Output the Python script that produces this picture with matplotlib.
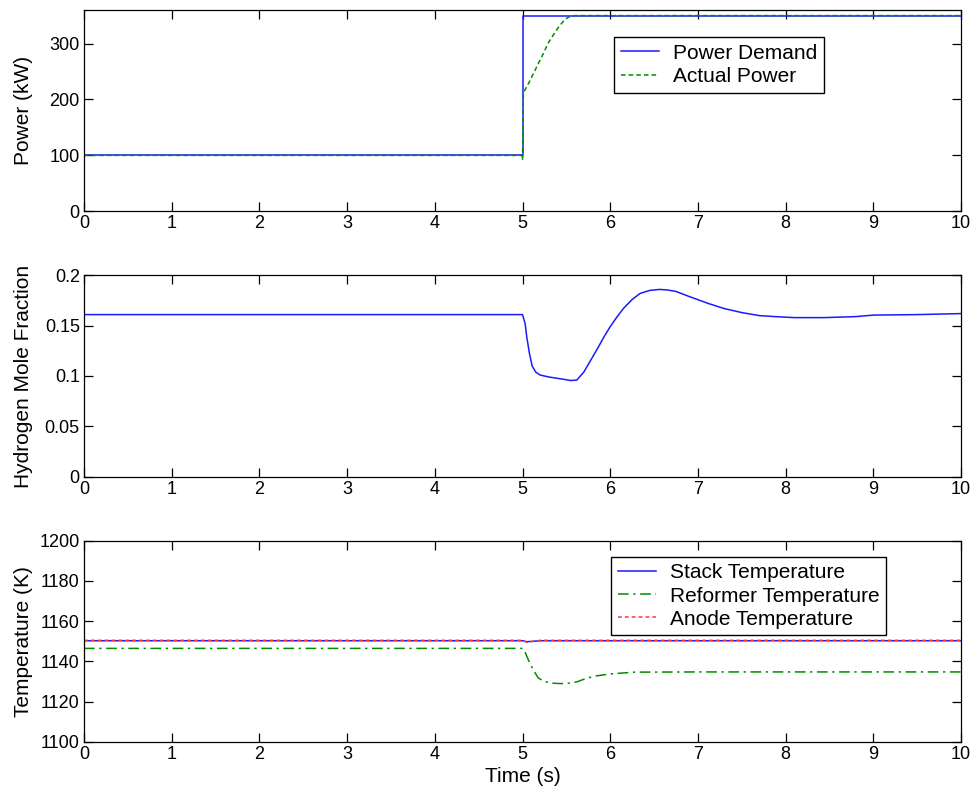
import matplotlib
matplotlib.use("Agg")
import matplotlib.pyplot as plt
import numpy as np

plt.rcParams['font.family'] = ['Liberation Sans', 'DejaVu Sans']
plt.rcParams['font.size'] = 13

# Power panel
t_demand = [0, 5, 5, 10]
p_demand = [100, 100, 350, 350]
t_actual = [0, 5.0, 5.0, 5.01, 5.07, 5.12, 5.18, 5.24, 5.29, 5.35, 5.40, 5.45, 5.50, 5.55, 5.60, 10]
p_actual = [100, 100, 92, 212, 229, 245, 264, 283, 300, 315, 327, 337, 345, 349, 350, 350]

# Hydrogen mole fraction
t_h2 = [0, 5.0, 5.03, 5.05, 5.08, 5.11, 5.15, 5.2, 5.3, 5.45, 5.55, 5.62, 5.7,
        5.78, 5.86, 5.93, 6.0, 6.08, 6.15, 6.25, 6.34, 6.45, 6.56, 6.65, 6.75,
        6.9, 7.12, 7.3, 7.5, 7.7, 7.88, 8.1, 8.44, 8.8, 9.0, 9.5, 10]
h2 = [0.161, 0.161, 0.152, 0.138, 0.122, 0.110, 0.104, 0.101, 0.099, 0.097,
      0.0955, 0.096, 0.104, 0.116, 0.128, 0.139, 0.149, 0.159, 0.167, 0.176,
      0.182, 0.185, 0.186, 0.1855, 0.184, 0.179, 0.172, 0.167, 0.163, 0.160,
      0.159, 0.158, 0.158, 0.159, 0.1605, 0.161, 0.162]

# Temperatures
t_stack = [0, 5.0, 5.05, 5.2, 10]
T_stack = [1150.3, 1150.3, 1149.8, 1150.3, 1150.3]
t_anode = [0, 5.0, 5.05, 5.2, 10]
T_anode = [1150.5, 1150.5, 1149.5, 1150.5, 1150.5]
t_ref = [0, 5.0, 5.03, 5.07, 5.12, 5.18, 5.25, 5.35, 5.44, 5.55, 5.63, 5.72,
         5.82, 6.0, 6.28, 7.0, 10]
T_ref = [1146.5, 1146.5, 1144.5, 1140.5, 1136.0, 1131.8, 1130.0, 1129.2,
         1129.0, 1129.3, 1130.0, 1131.5, 1132.7, 1133.8, 1134.7, 1134.8, 1134.8]

fig, axes = plt.subplots(3, 1, figsize=(9.72, 7.97), dpi=100)
fig.subplots_adjust(left=84/972, right=961/972, top=1-10/797, bottom=1-742/797, hspace=0.318)

blue = (0.1, 0.1, 1.0)
green = (0.0, 0.55, 0.0)
red = (1.0, 0.2, 0.2)

leg_kw = dict(loc='upper left', fancybox=False, edgecolor='black', framealpha=1,
              borderaxespad=0, handlelength=1.85, handletextpad=0.65,
              fontsize=15, borderpad=0.32, labelspacing=0.2)

ax = axes[0]
ax.plot(t_demand, p_demand, color=blue, lw=1.1, label='Power Demand')
ax.plot(t_actual, p_actual, color=green, lw=1.1, dashes=(3, 2), label='Actual Power')
ax.set_ylim(0, 360)
ax.set_yticks([0, 100, 200, 300])
ax.set_ylabel('Power (kW)', fontsize=15)
ax.legend(bbox_to_anchor=((614-84)/877, (211-37)/201), **leg_kw)

ax = axes[1]
ax.plot(t_h2, h2, color=blue, lw=1.1)
ax.set_ylim(0, 0.2)
ax.set_yticks([0, 0.05, 0.1, 0.15, 0.2])
ax.set_yticklabels(['0', '0.05', '0.1', '0.15', '0.2'])
ax.set_ylabel('Hydrogen Mole Fraction', fontsize=15)

ax = axes[2]
ax.plot(t_stack, T_stack, color=blue, lw=1.1, label='Stack Temperature')
ax.plot(t_ref, T_ref, color=green, lw=1.1, dashes=(7, 3, 1.5, 3), label='Reformer Temperature')
ax.plot(t_anode, T_anode, color=red, lw=1.1, dashes=(2.5, 2), label='Anode Temperature')
ax.set_ylim(1100, 1200)
ax.set_yticks([1100, 1120, 1140, 1160, 1180, 1200])
ax.set_ylabel('Temperature (K)', fontsize=15)
ax.set_xlabel('Time (s)', fontsize=15, labelpad=3)
ax.legend(bbox_to_anchor=((611-84)/877, (742-558)/200), **leg_kw)

for ax in axes:
    ax.set_xlim(0, 10)
    ax.set_xticks(range(0, 11))
    ax.tick_params(direction='in', top=True, right=True, length=6.5, width=0.9, pad=3)
    ax.yaxis.set_label_coords(-0.058, 0.5)
    for s in ax.spines.values():
        s.set_linewidth(0.9)

fig.savefig('out.png', dpi=100)
